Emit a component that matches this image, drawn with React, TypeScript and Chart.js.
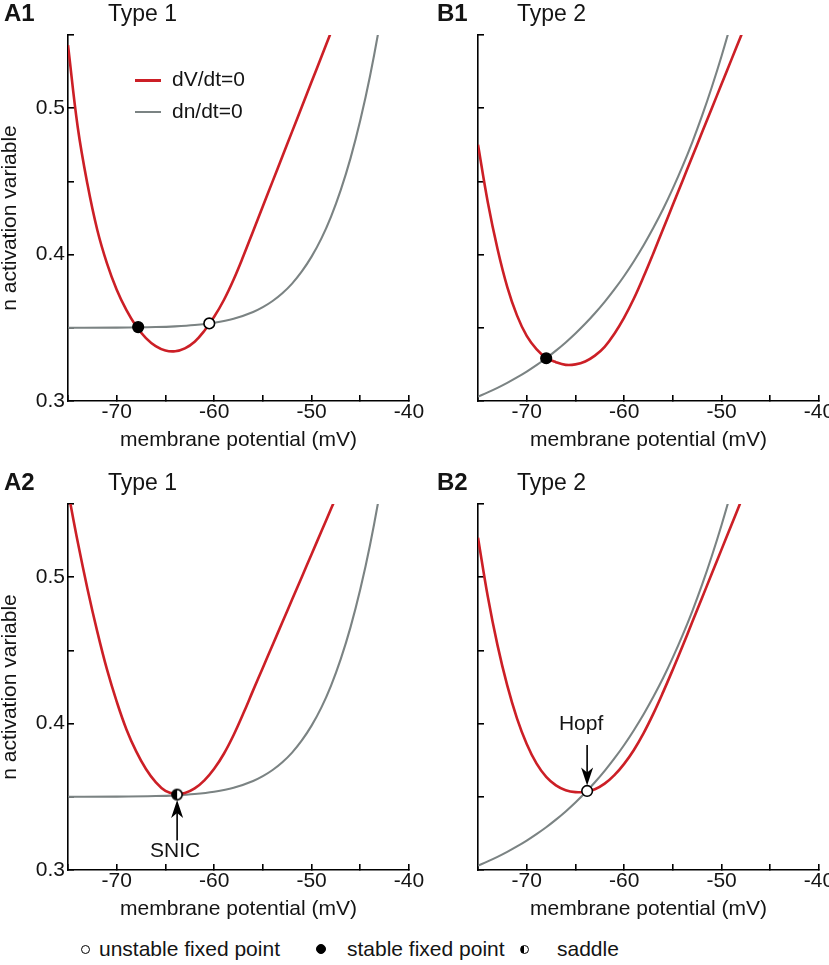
import React, { useEffect, useRef } from 'react';
import { Chart, registerables } from 'chart.js';
Chart.register(...registerables);

const FONT = "'Liberation Sans', Arial, Helvetica, sans-serif";
const RED = '#cc1f26';
const GRAY = '#7b8383';
const TEXT = '#141414';

// axes
const xMin = -75;
const xMax = -40;
const xStep = 5;
const xTickLabels = [-70, -60, -50, -40];
const yMin = 0.3;
const yMax = 0.55;
const yStep = 0.05;
const yTickLabels = [0.3, 0.4, 0.5];

// V nullclines (dV/dt = 0), sampled at these membrane potentials (mV)
const vRed = [-75, -74, -73, -72, -71, -70, -69, -68, -67, -66, -65, -64, -63, -62, -61, -60, -59, -58, -57, -56, -55, -54, -53, -52, -51, -50, -49, -48, -47];
const nA1Red = [0.543, 0.487, 0.448, 0.417, 0.394, 0.376, 0.362, 0.351, 0.343, 0.3375, 0.3345, 0.334, 0.336, 0.3405, 0.348, 0.3575, 0.369, 0.383, 0.399, 0.416, 0.433, 0.45, 0.467, 0.484, 0.501, 0.518, 0.535, 0.552, 0.569];
const nA2Red = [0.559, 0.524, 0.492, 0.463, 0.437, 0.415, 0.396, 0.381, 0.369, 0.36, 0.354, 0.352, 0.3526, 0.3557, 0.3612, 0.3691, 0.3794, 0.3922, 0.407, 0.4227, 0.4382, 0.4537, 0.4692, 0.4847, 0.5002, 0.5157, 0.5312, 0.5467, 0.5622];
const nB1Red = [0.475, 0.436, 0.404, 0.378, 0.3585, 0.3445, 0.3355, 0.3295, 0.3265, 0.3247, 0.325, 0.327, 0.331, 0.337, 0.346, 0.357, 0.37, 0.385, 0.401, 0.4175, 0.434, 0.4505, 0.467, 0.4835, 0.5, 0.5165, 0.533, 0.5495, 0.566];
const nB2Red = [0.527, 0.487, 0.4536, 0.4261, 0.4036, 0.3861, 0.3728, 0.3636, 0.3578, 0.3545, 0.3532, 0.3535, 0.3552, 0.359, 0.3648, 0.3725, 0.382, 0.3935, 0.4068, 0.4215, 0.437, 0.453, 0.4695, 0.486, 0.5025, 0.519, 0.5355, 0.552, 0.5685];

// n nullclines (dn/dt = 0)
const vGrayA = [-75, -70, -66, -64, -62, -60, -58, -56, -55, -54, -53, -52, -51, -50, -49, -48, -47, -46, -45, -44, -43, -42];
const nGrayA = [0.35, 0.3501, 0.3505, 0.351, 0.3519, 0.3535, 0.3562, 0.3608, 0.3641, 0.3683, 0.3736, 0.3802, 0.3885, 0.3986, 0.4109, 0.426, 0.4442, 0.4659, 0.4917, 0.522, 0.5576, 0.599];
const vGrayB = [-75, -74, -73, -72, -71, -70, -69, -68, -67, -66, -65, -64, -63, -62, -61, -60, -59, -58, -57, -56, -55, -54, -53, -52, -51, -50, -49, -48];
const nGrayB = [0.303, 0.3059, 0.309, 0.3124, 0.3161, 0.3201, 0.3245, 0.3292, 0.3344, 0.34, 0.3461, 0.3527, 0.3599, 0.3677, 0.3762, 0.3854, 0.3955, 0.4064, 0.4183, 0.4311, 0.4452, 0.4604, 0.4769, 0.4949, 0.5145, 0.5357, 0.5588, 0.5839];

// fixed points
const fixedA1 = [
  { v: -67.8, n: 0.3505, kind: 'stable' },
  { v: -60.5, n: 0.353, kind: 'unstable' },
];
const fixedB1 = [{ v: -68.0, n: 0.3292, kind: 'stable' }];
const fixedA2 = [{ v: -63.8, n: 0.3515, kind: 'saddle' }];
const fixedB2 = [{ v: -63.8, n: 0.354, kind: 'unstable' }];

// bifurcation annotations
const annotA2 = [{ v: -63.8, n: 0.3515, dir: 'up', label: 'SNIC' }];
const annotB2 = [{ v: -63.8, n: 0.354, dir: 'down', label: 'Hopf' }];

let saddleImg: HTMLCanvasElement | null = null;
function getSaddle() {
  if (saddleImg) return saddleImg;
  const c = document.createElement('canvas');
  c.width = 14;
  c.height = 14;
  const g = c.getContext('2d')!;
  g.beginPath();
  g.arc(7, 7, 5.1, 0, Math.PI * 2);
  g.fillStyle = '#fff';
  g.fill();
  g.beginPath();
  g.moveTo(7, 1.9);
  g.arc(7, 7, 5.1, Math.PI * 1.5, Math.PI * 0.5, true);
  g.closePath();
  g.fillStyle = '#000';
  g.fill();
  g.beginPath();
  g.arc(7, 7, 5.1, 0, Math.PI * 2);
  g.lineWidth = 1.7;
  g.strokeStyle = '#000';
  g.stroke();
  saddleImg = c;
  return c;
}

const arrowPlugin = {
  id: 'arrows',
  afterDatasetsDraw(chart: any, _args: any, opts: any) {
    const items = (opts && opts.items) || [];
    const ctx = chart.ctx;
    const xs = chart.scales.x;
    const ys = chart.scales.y;
    items.forEach((it: any) => {
      const px = xs.getPixelForValue(it.v);
      const py = ys.getPixelForValue(it.n);
      const d = it.dir === 'up' ? 1 : -1;
      const tip = py + d * 5.5;
      const tail = py + d * 46;
      ctx.save();
      ctx.strokeStyle = '#000';
      ctx.fillStyle = '#000';
      ctx.lineWidth = 1.6;
      ctx.beginPath();
      ctx.moveTo(px, tip + d * 10);
      ctx.lineTo(px, tail);
      ctx.stroke();
      ctx.beginPath();
      ctx.moveTo(px, tip);
      ctx.lineTo(px - 6, tip + d * 18);
      ctx.lineTo(px, tip + d * 13);
      ctx.lineTo(px + 6, tip + d * 18);
      ctx.closePath();
      ctx.fill();
      ctx.font = `21px ${FONT}`;
      ctx.textAlign = 'center';
      ctx.textBaseline = 'alphabetic';
      ctx.fillStyle = TEXT;
      if (d === 1) ctx.fillText(it.label, px - 2, py + 62);
      else ctx.fillText(it.label, px - 6, py - 61);
      ctx.restore();
    });
  },
};

type Spec = {
  left: number;
  top: number;
  width: number;
  height: number;
  padRight: number;
  yLabels: boolean;
  red: number[];
  grayV: number[];
  grayN: number[];
  fixed: { v: number; n: number; kind: string }[];
  annot: any[];
};

function buildConfig(s: Spec): any {
  const pointSets = s.fixed.map((p) => ({
    data: [{ x: p.v, y: p.n }],
    showLine: false,
    pointRadius: 5.3,
    pointHoverRadius: 5.3,
    pointBorderWidth: 1.6,
    pointBorderColor: '#000',
    pointBackgroundColor: p.kind === 'stable' ? '#000' : '#fff',
    pointStyle: p.kind === 'saddle' ? getSaddle() : 'circle',
  }));
  return {
    type: 'scatter',
    data: {
      datasets: [
        ...pointSets,
        {
          data: vRed.map((v, i) => ({ x: v, y: s.red[i] })),
          showLine: true,
          borderColor: RED,
          borderWidth: 2.6,
          pointRadius: 0,
          tension: 0.4,
        },
        {
          data: s.grayV.map((v, i) => ({ x: v, y: s.grayN[i] })),
          showLine: true,
          borderColor: GRAY,
          borderWidth: 2.1,
          pointRadius: 0,
          cubicInterpolationMode: 'monotone',
        },
      ],
    },
    options: {
      animation: false,
      responsive: false,
      maintainAspectRatio: false,
      devicePixelRatio: 1,
      events: [],
      layout: { padding: { top: 35, right: s.padRight, left: 0, bottom: 0 } },
      plugins: {
        legend: { display: false },
        tooltip: { enabled: false },
        arrows: { items: s.annot },
      },
      scales: {
        x: {
          type: 'linear',
          min: xMin,
          max: xMax,
          position: 'bottom',
          border: { display: true, color: '#000', width: 1.6 },
          grid: { drawOnChartArea: false, drawTicks: true, tickLength: -6, color: '#000', lineWidth: 1.6 },
          ticks: {
            stepSize: xStep,
            autoSkip: false,
            maxRotation: 0,
            padding: 5,
            color: TEXT,
            font: { family: FONT, size: 21 },
            callback: (v: number) => (xTickLabels.some((t) => Math.abs(t - v) < 1e-6) ? String(v) : ''),
          },
          title: {
            display: true,
            text: 'membrane potential (mV)',
            color: TEXT,
            font: { family: FONT, size: 21 },
            padding: { top: 0, bottom: 2 },
          },
          afterFit: (sc: any) => {
            sc.height = s.height - 401;
          },
        },
        y: {
          type: 'linear',
          min: yMin,
          max: yMax,
          position: 'left',
          border: { display: true, color: '#000', width: 1.6 },
          grid: { drawOnChartArea: false, drawTicks: true, tickLength: -6, color: '#000', lineWidth: 1.6 },
          ticks: {
            stepSize: yStep,
            autoSkip: false,
            padding: 9,
            color: TEXT,
            font: { family: FONT, size: 21 },
            callback: (v: number) =>
              s.yLabels && yTickLabels.some((t) => Math.abs(t - v) < 1e-6) ? v.toFixed(1) : '',
          },
          title: {
            display: s.yLabels,
            text: 'n activation variable',
            color: TEXT,
            font: { family: FONT, size: 21, lineHeight: 1 },
            padding: 0,
          },
          afterFit: (sc: any) => {
            sc.width = 68;
          },
        },
      },
    },
    plugins: [arrowPlugin],
  };
}

function Panel({ spec }: { spec: Spec }) {
  const ref = useRef<HTMLCanvasElement>(null);
  useEffect(() => {
    const chart = new Chart(ref.current!, buildConfig(spec));
    return () => chart.destroy();
  }, []);
  return (
    <canvas
      ref={ref}
      width={spec.width}
      height={spec.height}
      style={{ position: 'absolute', left: spec.left, top: spec.top, width: spec.width, height: spec.height }}
    />
  );
}

function Txt({ x, base, size, bold, children }: any) {
  return (
    <div
      style={{
        position: 'absolute',
        left: x,
        top: base - 0.8465 * size,
        fontSize: size,
        lineHeight: `${size}px`,
        fontWeight: bold ? 700 : 400,
        whiteSpace: 'nowrap',
        color: TEXT,
      }}
    >
      {children}
    </div>
  );
}

const specs: Spec[] = [
  { left: 0, top: 0, width: 430, height: 455, padRight: 21, yLabels: true, red: nA1Red, grayV: vGrayA, grayN: nGrayA, fixed: fixedA1, annot: [] },
  { left: 410, top: 0, width: 440, height: 455, padRight: 31, yLabels: false, red: nB1Red, grayV: vGrayB, grayN: nGrayB, fixed: fixedB1, annot: [] },
  { left: 0, top: 469, width: 430, height: 455, padRight: 21, yLabels: true, red: nA2Red, grayV: vGrayA, grayN: nGrayA, fixed: fixedA2, annot: annotA2 },
  { left: 410, top: 469, width: 440, height: 455, padRight: 31, yLabels: false, red: nB2Red, grayV: vGrayB, grayN: nGrayB, fixed: fixedB2, annot: annotB2 },
];

export default function App() {
  const dot = (x: number, y: number, bg: string, d: number) => (
    <div
      style={{
        position: 'absolute',
        left: x - d / 2,
        top: y - d / 2,
        width: d,
        height: d,
        boxSizing: 'border-box',
        borderRadius: '50%',
        border: '1.5px solid #000',
        background: bg,
      }}
    />
  );
  return (
    <div
      style={{
        position: 'absolute',
        left: 0,
        top: 0,
        width: 829,
        height: 965,
        overflow: 'hidden',
        background: '#fff',
        fontFamily: FONT,
      }}
    >
      {specs.map((s, i) => (
        <Panel key={i} spec={s} />
      ))}
      <Txt x={4} base={21} size={24} bold>A1</Txt>
      <Txt x={108} base={21} size={23}>Type 1</Txt>
      <Txt x={437} base={21} size={24} bold>B1</Txt>
      <Txt x={517} base={21} size={23}>Type 2</Txt>
      <Txt x={4} base={490} size={24} bold>A2</Txt>
      <Txt x={108} base={490} size={23}>Type 1</Txt>
      <Txt x={437} base={490} size={24} bold>B2</Txt>
      <Txt x={517} base={490} size={23}>Type 2</Txt>

      <div style={{ position: 'absolute', left: 135, top: 79, width: 26, height: 2.6, background: RED }} />
      <Txt x={172} base={86} size={21}>dV/dt=0</Txt>
      <div style={{ position: 'absolute', left: 135, top: 111, width: 26, height: 2.2, background: GRAY }} />
      <Txt x={172} base={118} size={21}>dn/dt=0</Txt>

      {dot(85, 949, '#fff', 9)}
      <Txt x={99} base={956} size={21}>unstable fixed point</Txt>
      {dot(321, 949, '#000', 10)}
      <Txt x={347} base={956} size={21}>stable fixed point</Txt>
      {dot(524, 949, 'linear-gradient(90deg, #000 50%, #fff 50%)', 9)}
      <Txt x={557} base={956} size={21}>saddle</Txt>
    </div>
  );
}
